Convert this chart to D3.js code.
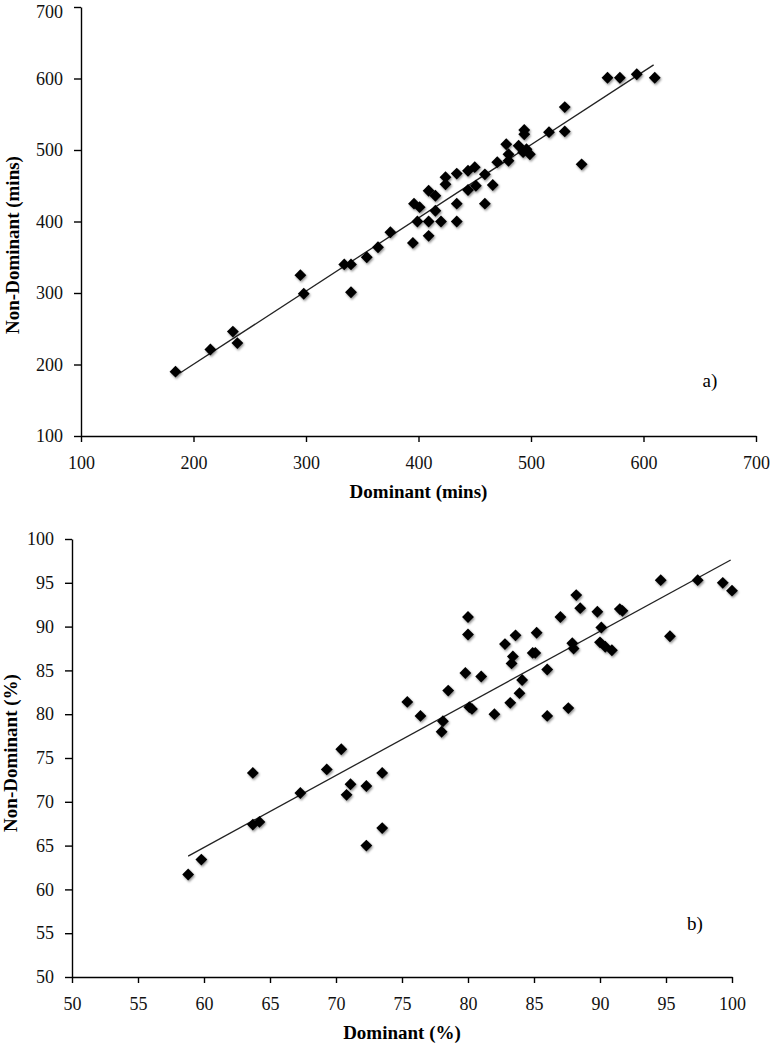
<!DOCTYPE html>
<html>
<head>
<meta charset="utf-8">
<script src="https://cdn.jsdelivr.net/npm/d3@7"></script>
<style>
  body { margin: 0; background: #fff; }
  svg { display: block; font-family: "Liberation Serif", "Times New Roman", serif; }
  .axis path, .axis line { stroke: #000; stroke-width: 1.4; }
  .axis text { font-size: 18px; fill: #111; font-family: "Liberation Serif", serif; }
  .title { font-size: 19px; font-weight: bold; fill: #000; }
  .tag { font-size: 19px; fill: #000; }
</style>
</head>
<body>
<div id="chart"></div>
<script>
// panel a) minutes
const dominantMins = [184, 215, 235, 239, 295, 298, 334, 340, 340, 354, 364, 375, 395, 396, 401, 399,
  409, 415, 415, 409, 409, 420, 434, 434, 424, 424, 434, 444, 450, 459, 444, 451, 466, 459,
  470, 480, 478, 489, 496, 499, 493, 480, 494, 494, 516, 530, 530, 545, 568, 579, 594, 610];
const nonDominantMins = [190, 221, 246, 230, 325, 299, 340, 340, 301, 350, 364, 385, 370, 425, 420, 400,
  443, 436, 415, 400, 380, 400, 425, 400, 462, 452, 467, 471, 476, 466, 444, 450, 451, 425,
  483, 485, 508, 506, 501, 494, 497, 494, 528, 522, 525, 526, 560, 480, 601, 601, 606, 601];
const trendMins = [[188, 188], [609, 619]];
const ticksMins = [100, 200, 300, 400, 500, 600, 700];

// panel b) percent
const dominantPct = [58.8, 59.8, 63.7, 63.7, 64.2, 67.3, 69.3, 70.4, 70.8, 71.1, 72.3, 72.3, 73.5, 73.5,
  75.4, 76.4, 78.0, 78.1, 78.5, 79.8, 80.0, 80.0, 80.1, 80.3, 81.0, 82.0, 82.8, 83.2, 83.3, 83.4,
  83.6, 83.9, 84.1, 84.9, 85.1, 85.2, 86.0, 86.0, 87.0, 87.6, 87.9, 88.0, 88.2, 88.5, 89.8, 90.1,
  90.0, 90.4, 90.9, 91.5, 91.7, 94.6, 95.3, 97.4, 99.3, 100.0];
const nonDominantPct = [61.7, 63.4, 73.3, 67.4, 67.7, 71.0, 73.7, 76.0, 70.8, 72.0, 71.8, 65.0, 73.3, 67.0,
  81.4, 79.8, 78.0, 79.2, 82.7, 84.7, 91.1, 89.1, 80.8, 80.6, 84.3, 80.0, 88.0, 81.3, 85.8, 86.6,
  89.0, 82.4, 83.9, 87.0, 87.0, 89.3, 85.1, 79.8, 91.1, 80.7, 88.1, 87.5, 93.6, 92.1, 91.7, 89.9,
  88.2, 87.7, 87.3, 92.0, 91.8, 95.3, 88.9, 95.3, 95.0, 94.1];
const trendPct = [[58.8, 63.8], [99.9, 97.6]];
const ticksPct = [50, 55, 60, 65, 70, 75, 80, 85, 90, 95, 100];

const svg = d3.select('#chart').append('svg')
  .attr('width', 771)
  .attr('height', 1045);

// soft shadow under the markers
svg.append('defs').append('filter')
  .attr('id', 'shadow')
  .attr('x', '-50%').attr('y', '-50%').attr('width', '200%').attr('height', '200%')
  .append('feDropShadow')
  .attr('dx', 1).attr('dy', 1.5).attr('stdDeviation', 1.2)
  .attr('flood-color', '#000').attr('flood-opacity', 0.45);

const diamond = d3.symbol().type(d3.symbolSquare).size(70);

function drawPanel(p) {
  const x = d3.scaleLinear().domain(p.xDomain).range([p.left, p.right]);
  const y = d3.scaleLinear().domain(p.yDomain).range([p.bottom, p.top]);
  const g = svg.append('g');

  g.append('g')
    .attr('class', 'axis')
    .attr('transform', 'translate(0,' + p.bottom + ')')
    .call(d3.axisBottom(x).tickValues(p.ticksX).tickSize(6).tickSizeOuter(0).tickPadding(14));

  const yAxis = g.append('g')
    .attr('class', 'axis')
    .attr('transform', 'translate(' + p.left + ',0)')
    .call(d3.axisLeft(y).tickValues(p.ticksY).tickSize(7).tickSizeOuter(0).tickPadding(11));

  // keep the top label inside the page
  if (p.top < 12) {
    yAxis.selectAll('.tick text')
      .filter(d => d === p.yDomain[1])
      .attr('dy', '0.6em');
  }

  // trend line
  g.append('path')
    .datum(p.trend)
    .attr('fill', 'none')
    .attr('stroke', '#222')
    .attr('stroke-width', 1.3)
    .attr('d', d3.line().x(d => x(d[0])).y(d => y(d[1])));

  const pts = p.xs.map((v, i) => [v, p.ys[i]]);
  g.append('g')
    .attr('filter', 'url(#shadow)')
    .selectAll('path')
    .data(pts)
    .join('path')
    .attr('d', diamond)
    .attr('fill', '#000')
    .attr('transform', d => 'translate(' + x(d[0]) + ',' + y(d[1]) + ') rotate(45)');

  g.append('text')
    .attr('class', 'title')
    .attr('x', (p.left + p.right) / 2)
    .attr('y', p.bottom + 62)
    .attr('text-anchor', 'middle')
    .text(p.xTitle);

  g.append('text')
    .attr('class', 'title')
    .attr('transform', 'translate(' + p.yTitleX + ',' + p.yTitleY + ') rotate(-90)')
    .attr('text-anchor', 'middle')
    .attr('dy', '0.35em')
    .text(p.yTitle);

  g.append('text')
    .attr('class', 'tag')
    .attr('x', p.tag[0])
    .attr('y', p.tag[1])
    .attr('text-anchor', 'middle')
    .attr('dy', '0.35em')
    .text(p.tagText);
}

drawPanel({
  xs: dominantMins, ys: nonDominantMins, trend: trendMins,
  xDomain: [100, 700], yDomain: [100, 700], ticksX: ticksMins, ticksY: ticksMins,
  left: 81, right: 756, top: 7, bottom: 436,
  xTitle: 'Dominant (mins)', yTitle: 'Non-Dominant (mins)',
  yTitleX: 12, yTitleY: 245, tag: [710, 380], tagText: 'a)'
});

drawPanel({
  xs: dominantPct, ys: nonDominantPct, trend: trendPct,
  xDomain: [50, 100], yDomain: [50, 100], ticksX: ticksPct, ticksY: ticksPct,
  left: 72, right: 732, top: 539, bottom: 977,
  xTitle: 'Dominant (%)', yTitle: 'Non-Dominant (%)',
  yTitleX: 10, yTitleY: 753, tag: [695, 923], tagText: 'b)'
});
</script>
</body>
</html>
